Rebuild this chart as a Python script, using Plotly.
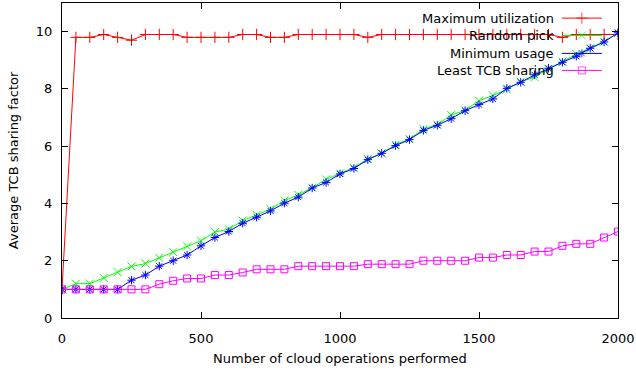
import plotly.graph_objects as go

ops = list(range(0, 2001, 50))

max_util = [1.0, 9.8, 9.8, 9.9, 9.8, 9.7, 9.9, 9.9, 9.9, 9.8, 9.8,
            9.8, 9.8, 9.9, 9.9, 9.8, 9.8, 9.9, 9.9, 9.9, 9.9,
            9.9, 9.8, 9.9, 9.9, 9.9, 9.9, 9.9, 9.9, 9.9, 9.9,
            9.9, 9.9, 9.9, 9.9, 9.9, 9.8, 9.9, 9.9, 9.9, 9.9]

random_pick = [1.0, 1.2, 1.2, 1.4, 1.6, 1.8, 1.9, 2.1, 2.3, 2.5, 2.7,
               3.0, 3.1, 3.4, 3.6, 3.8, 4.1, 4.3, 4.55, 4.84, 5.05,
               5.25, 5.55, 5.75, 6.05, 6.25, 6.6, 6.75, 7.09, 7.25, 7.59,
               7.77, 7.98, 8.25, 8.41, 8.7, 8.95, 9.22, 9.42, 9.65, 9.95]

min_usage = [1.0, 1.0, 1.0, 1.0, 1.0, 1.32, 1.5, 1.81, 2.0, 2.2, 2.52,
             2.81, 3.02, 3.31, 3.52, 3.74, 4.01, 4.22, 4.54, 4.73, 5.03,
             5.22, 5.53, 5.75, 6.02, 6.23, 6.55, 6.73, 6.96, 7.24, 7.45,
             7.65, 8.02, 8.23, 8.49, 8.72, 8.93, 9.14, 9.42, 9.64, 9.96]

least_tcb = [1.0, 1.0, 1.0, 1.0, 1.0, 1.0, 1.0, 1.18, 1.3, 1.38, 1.38,
             1.5, 1.5, 1.59, 1.7, 1.7, 1.7, 1.81, 1.81, 1.81, 1.81,
             1.81, 1.88, 1.88, 1.88, 1.88, 2.0, 2.0, 2.0, 2.0, 2.11,
             2.11, 2.2, 2.2, 2.32, 2.32, 2.52, 2.59, 2.59, 2.81, 3.02]

series_names = ["Maximum utilization", "Random pick", "Minimum usage", "Least TCB sharing"]
series_values = [max_util, random_pick, min_usage, least_tcb]
colors = ["#ff0000", "#00ff00", "#0000ff", "#ff00ff"]
symbols = ["cross-thin-open", "x-thin-open", "asterisk-open", "square-open"]
sizes = [8, 8, 7, 7]

x_ticks = [0, 500, 1000, 1500, 2000]
y_ticks = [0, 2, 4, 6, 8, 10]

FONT = "DejaVu Sans"
FS = 13

fig = go.Figure()
for name, vals, c, s, sz in zip(series_names, series_values, colors, symbols, sizes):
    fig.add_trace(go.Scatter(
        x=ops, y=vals, mode="lines+markers", name=name,
        line=dict(color=c, width=1),
        marker=dict(symbol=s, size=sz, color=c, line=dict(color=c, width=1)),
        showlegend=False, xaxis="x", yaxis="y",
    ))

# Gnuplot-style key: right-aligned text with sample line at right
key_rows_y = [0.952, 0.897, 0.840, 0.786]
annotations = []
for name, c, s, sz, ky in zip(series_names, colors, symbols, sizes, key_rows_y):
    fig.add_trace(go.Scatter(
        x=[0.899, 0.935, 0.971], y=[ky, ky, ky], mode="lines+markers",
        line=dict(color=c, width=1),
        marker=dict(symbol=s, size=[0, sz, 0], color=c, line=dict(color=c, width=1)),
        showlegend=False, hoverinfo="skip", xaxis="x2", yaxis="y2",
    ))
    annotations.append(dict(
        text=name, xref="paper", yref="paper", x=0.888, y=ky,
        xanchor="right", yanchor="middle", showarrow=False,
        font=dict(family=FONT, size=FS, color="#000000"),
    ))

annotations += [
    dict(text="Number of cloud operations performed", xref="paper", yref="paper",
         x=0.5, y=-0.13, xanchor="center", yanchor="middle", showarrow=False,
         font=dict(family=FONT, size=FS, color="#000000")),
    dict(text="Average TCB sharing factor", xref="paper", yref="paper",
         x=-0.087, y=0.5, xanchor="center", yanchor="middle", showarrow=False,
         textangle=-90, font=dict(family=FONT, size=FS, color="#000000")),
]

axis_common = dict(
    showline=True, linecolor="#000000", linewidth=1, mirror="allticks",
    ticks="inside", ticklen=6, tickcolor="#000000", tickwidth=1,
    showgrid=False, zeroline=False, automargin=False,
    tickfont=dict(family=FONT, size=FS, color="#000000"),
)

fig.update_layout(
    width=636, height=373,
    margin=dict(l=62, r=18, t=3, b=55, autoexpand=False),
    paper_bgcolor="#ffffff", plot_bgcolor="#ffffff",
    showlegend=False,
    xaxis=dict(range=[0, 2000], tickvals=x_ticks, ticklabelstandoff=8, **axis_common),
    yaxis=dict(range=[0, 11], tickvals=y_ticks, ticklabelstandoff=6, **axis_common),
    xaxis2=dict(domain=[0, 1], range=[0, 1], visible=False, overlaying="x", anchor="y2"),
    yaxis2=dict(domain=[0, 1], range=[0, 1], visible=False, overlaying="y", anchor="x2"),
    annotations=annotations,
)

fig.write_html(
    "out.html",
    config={"displayModeBar": False},
    post_script="document.body.style.margin='0';document.body.style.overflow='hidden';",
)
